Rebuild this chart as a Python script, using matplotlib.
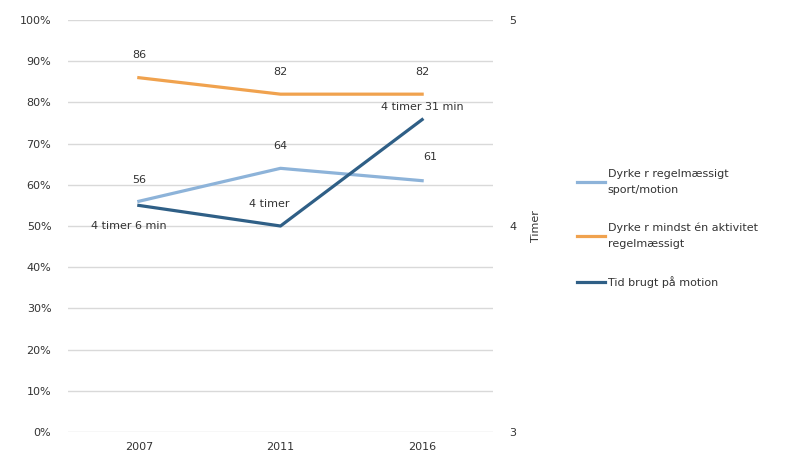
import matplotlib.pyplot as plt
import numpy as np

years = ["2007", "2011", "2016"]
sport = [56, 64, 61]
aktivitet = [86, 82, 82]
tid_timer = [4 + 6 / 60, 4.0, 4 + 31 / 60]
tid_labels = ["4 timer 6 min", "4 timer", "4 timer 31 min"]

c_sport = "#8db3d9"
c_akt = "#f0a24e"
c_tid = "#2f5f86"
txt = "#333333"

plt.rcParams["font.family"] = ["DejaVu Sans"]
plt.rcParams["font.size"] = 8

fig = plt.figure(figsize=(7.88, 4.61), dpi=100)
ax = fig.add_axes([0.0863, 0.0629, 0.5393, 0.8937])
ax2 = ax.twinx()

x = np.arange(len(years))
l1, = ax.plot(x, sport, color=c_sport, lw=2.3, label="Dyrke r regelmæssigt\nsport/motion")
l2, = ax.plot(x, aktivitet, color=c_akt, lw=2.3, label="Dyrke r mindst én aktivitet\nregelmæssigt")
l3, = ax2.plot(x, tid_timer, color=c_tid, lw=2.3, label="Tid brugt på motion")

ax.set_xlim(-0.5, 2.5)
ax.set_ylim(0, 100)
ax.set_yticks(range(0, 101, 10))
ax.set_yticklabels([f"{v}%" for v in range(0, 101, 10)])
ax.set_xticks(x)
ax.set_xticklabels(years)
ax.grid(axis="y", color="#d9d9d9", lw=1)
ax.set_axisbelow(True)

ax2.set_ylim(3, 5)
ax2.set_yticks([3, 4, 5])
ax2.set_ylabel("Timer", color=txt, labelpad=10, fontsize=8)

for a in (ax, ax2):
    for s in a.spines.values():
        s.set_visible(False)
    a.tick_params(length=0, colors=txt, labelsize=8)
ax.tick_params(axis="x", pad=7)
ax.tick_params(axis="y", pad=12)
ax2.tick_params(axis="y", pad=12)

# value labels
for i, v in enumerate(aktivitet):
    ax.annotate(str(v), (x[i], v), xytext=(0, 16), textcoords="offset points",
                ha="center", va="center", color=txt, fontsize=8)
sport_off = [(0, 15), (0, 16), (6, 17)]
for i, v in enumerate(sport):
    ax.annotate(str(v), (x[i], v), xytext=sport_off[i], textcoords="offset points",
                ha="center", va="center", color=txt, fontsize=8)
tid_off = [(-7, -15), (-8, 16), (0, 9)]
for i, v in enumerate(tid_timer):
    ax2.annotate(tid_labels[i], (x[i], v), xytext=tid_off[i], textcoords="offset points",
                 ha="center", va="center", color=txt, fontsize=8)

leg = fig.legend(handles=[l1, l2, l3], loc="upper left", bbox_to_anchor=(0.72, 0.655),
                 frameon=False, fontsize=8, handlelength=2.5, handletextpad=0.25,
                 labelspacing=2.5, labelcolor=txt)
for t in leg.get_texts():
    t.set_linespacing(1.7)

fig.savefig("out.png", dpi=100)
